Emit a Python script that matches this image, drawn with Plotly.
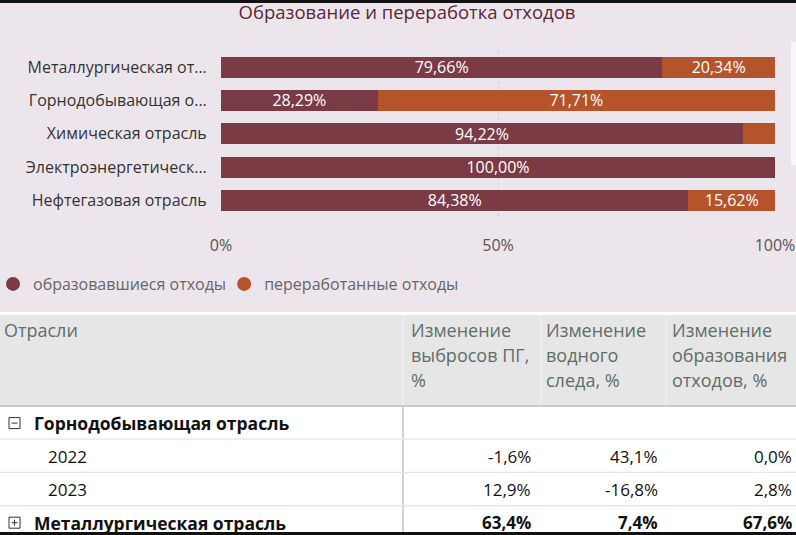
import plotly.graph_objects as go

# ---------------- data ----------------
industries = ["Металлургическая от...", "Горнодобывающая о...", "Химическая отрасль",
              "Электроэнергетическ...", "Нефтегазовая отрасль"]
generated_waste = [79.66, 28.29, 94.22, 100.00, 84.38]
recycled_waste = [20.34, 71.71, 5.78, 0.00, 15.62]
series_names = ["образовавшиеся отходы", "переработанные отходы"]
x_ticks = [0, 50, 100]
x_tick_labels = ["0%", "50%", "100%"]
chart_title = "Образование и переработка отходов"

table_header_first = "Отрасли"
table_header_cols = [["Изменение", "выбросов ПГ,", "%"],
                     ["Изменение", "водного", "следа, %"],
                     ["Изменение", "образования", "отходов, %"]]
table_row_labels = ["Горнодобывающая отрасль", "2022", "2023", "Металлургическая отрасль"]
table_row_level = [0, 1, 1, 0]
table_row_toggle = ["minus", None, None, "plus"]
ghg_change = [None, -1.6, 12.9, 63.4]
water_change = [None, 43.1, -16.8, 7.4]
waste_change = [None, 0.0, 2.8, 67.6]

# ---------------- style ----------------
W, H = 796, 535
FONT = "Segoe UI, Open Sans, Noto Sans, sans-serif"
C_GEN = "#7A3B45"
C_REC = "#B5532B"
PANEL = "#ECE6EC"


def X(px):
    return px / W


def Y(py):
    return 1 - py / H


def pct_label(v):
    # labels are shown only where the segment is wide enough (as in the original visual)
    return ("%.2f%%" % v).replace(".", ",") if v >= 10 else ""


fig = go.Figure()
for vals, nm, col in [(generated_waste, series_names[0], C_GEN), (recycled_waste, series_names[1], C_REC)]:
    fig.add_trace(go.Bar(y=industries, x=vals, orientation="h", name=nm,
                         marker=dict(color=col, line=dict(width=0)), showlegend=False,
                         text=[pct_label(v) for v in vals], textposition="inside",
                         insidetextanchor="middle", constraintext="none",
                         textfont=dict(color="white", size=16, family=FONT), hoverinfo="skip"))
# legend entries with round markers
for nm, col in zip(series_names, [C_GEN, C_REC]):
    fig.add_trace(go.Scatter(x=[None], y=[None], mode="markers", name=nm,
                             marker=dict(symbol="circle", size=14, color=col)))

shapes = []
shapes.append(dict(type="rect", xref="paper", yref="paper", x0=0, x1=1, y0=Y(0), y1=Y(3),
                   fillcolor="#111111", line=dict(width=0), layer="below"))
shapes.append(dict(type="rect", xref="paper", yref="paper", x0=0, x1=1, y0=Y(3), y1=Y(312),
                   fillcolor=PANEL, line=dict(width=0), layer="below"))
shapes.append(dict(type="rect", xref="paper", yref="paper", x0=X(791), x1=1, y0=Y(42), y1=Y(165),
                   fillcolor="#F8F6F8", line=dict(width=0), layer="below"))
shapes.append(dict(type="rect", xref="paper", yref="paper", x0=0, x1=1, y0=Y(315), y1=Y(405),
                   fillcolor="#E6E6E6", line=dict(width=0), layer="below"))
for xs in [403, 541, 666]:
    shapes.append(dict(type="line", xref="paper", yref="paper", x0=X(xs), x1=X(xs), y0=Y(315), y1=Y(405),
                       line=dict(color="#EEEEEE", width=1.5), layer="below"))
shapes.append(dict(type="line", xref="paper", yref="paper", x0=0, x1=1, y0=Y(406), y1=Y(406),
                   line=dict(color="#C9C9C9", width=2), layer="below"))
shapes.append(dict(type="line", xref="paper", yref="paper", x0=X(403), x1=X(403), y0=Y(406), y1=Y(535),
                   line=dict(color="#D2D2D2", width=2), layer="below"))
row_h = 33.2
row_top = 407
for i in range(1, len(table_row_labels)):
    yy = row_top + i * row_h - 1
    shapes.append(dict(type="line", xref="paper", yref="paper", x0=0, x1=1, y0=Y(yy), y1=Y(yy),
                       line=dict(color="#E3E3E3", width=1.2), layer="below"))
shapes.append(dict(type="rect", xref="paper", yref="paper", x0=0, x1=1, y0=Y(532), y1=Y(535),
                   fillcolor="#111111", line=dict(width=0), layer="above"))

annotations = []
HC = "#5E6E67"
annotations.append(dict(text=table_header_first, xref="paper", yref="paper", x=X(2), y=Y(330),
                        xanchor="left", yanchor="middle", showarrow=False,
                        font=dict(family=FONT, size=18, color=HC)))
for cx, lines in zip([409, 544, 670], table_header_cols):
    for k, ln in enumerate(lines):
        annotations.append(dict(text=ln, xref="paper", yref="paper", x=X(cx), y=Y(330 + 25 * k),
                                xanchor="left", yanchor="middle", showarrow=False,
                                font=dict(family=FONT, size=18, color=HC)))


def fmt(v):
    return ("%.1f%%" % v).replace(".", ",")


for i, lab in enumerate(table_row_labels):
    cy = row_top + row_h * i + row_h / 2 - 0.5
    bold = table_row_level[i] == 0
    lx = 32 if table_row_level[i] == 0 else 46
    txt = "<b>%s</b>" % lab if bold else lab
    annotations.append(dict(text=txt, xref="paper", yref="paper", x=X(lx), y=Y(cy),
                            xanchor="left", yanchor="middle", showarrow=False,
                            font=dict(family=FONT, size=17.5 if bold else 17, color="#111111")))
    tg = table_row_toggle[i]
    if tg:
        shapes.append(dict(type="rect", xref="paper", yref="paper", x0=X(9), x1=X(20),
                           y0=Y(cy - 5.5), y1=Y(cy + 5.5), line=dict(color="#333333", width=1),
                           fillcolor="rgba(0,0,0,0)", layer="above"))
        shapes.append(dict(type="line", xref="paper", yref="paper", x0=X(11.5), x1=X(17.5),
                           y0=Y(cy), y1=Y(cy), line=dict(color="#333333", width=1), layer="above"))
        if tg == "plus":
            shapes.append(dict(type="line", xref="paper", yref="paper", x0=X(14.5), x1=X(14.5),
                               y0=Y(cy - 3), y1=Y(cy + 3), line=dict(color="#333333", width=1),
                               layer="above"))
    for rx, vals in zip([533, 660, 794], [ghg_change, water_change, waste_change]):
        v = vals[i]
        if v is None:
            continue
        t = fmt(v)
        if bold:
            t = "<b>%s</b>" % t
        annotations.append(dict(text=t, xref="paper", yref="paper", x=X(rx), y=Y(cy),
                                xanchor="right", yanchor="middle", showarrow=False,
                                font=dict(family=FONT, size=17, color="#111111")))

fig.update_layout(
    width=W, height=H, autosize=False,
    margin=dict(l=0, r=0, t=0, b=0, pad=0, autoexpand=False),
    paper_bgcolor="white", plot_bgcolor="rgba(0,0,0,0)",
    separators=", ",
    barmode="stack", bargap=0.37,
    title=dict(text=chart_title, x=X(407), xanchor="center", y=Y(13), yanchor="middle",
               font=dict(family=FONT, size=18.5, color="#5B2636")),
    xaxis=dict(domain=[X(221), X(775)], range=[0, 100], tickmode="array", tickvals=x_ticks,
               ticktext=x_tick_labels, automargin=False,
               showgrid=True, gridcolor="#D6CCD6", griddash="dot", gridwidth=1,
               zeroline=False, showline=False, ticks="outside", ticklen=14,
               tickcolor="rgba(0,0,0,0)", tickfont=dict(family=FONT, size=16, color="#555555")),
    yaxis=dict(domain=[Y(217), Y(50.5)], categoryorder="array", categoryarray=industries,
               autorange="reversed", showgrid=False, zeroline=False, showline=False, automargin=False,
               ticks="outside", ticklen=10, tickcolor="rgba(0,0,0,0)",
               tickfont=dict(family=FONT, size=16, color="#333333")),
    legend=dict(orientation="h", traceorder="normal", x=0, xanchor="left", y=Y(284),
                yanchor="middle", bgcolor="rgba(0,0,0,0)", indentation=-7,
                font=dict(family=FONT, size=16, color="#666666"), itemwidth=30),
    shapes=shapes, annotations=annotations,
)

fig.write_html("out.html")
